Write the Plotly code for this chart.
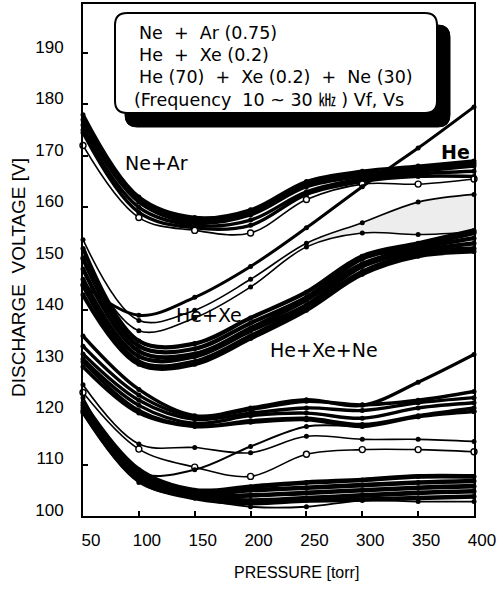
import plotly.graph_objects as go

# ---------------- data ----------------
pressure = [50, 100, 150, 200, 250, 300, 350, 400]
x_ticks = [50, 100, 150, 200, 250, 300, 350, 400]
y_ticks = [100, 110, 120, 130, 140, 150, 160, 170, 180, 190]

# Ne + Ar firing voltages (top band)
ne_ar_1 = [178.0, 162.0, 158.0, 159.5, 165.0, 167.0, 168.0, 169.0]
ne_ar_2 = [177.0, 161.5, 157.5, 159.0, 164.5, 166.5, 167.5, 168.5]
ne_ar_3 = [176.0, 161.0, 157.0, 158.5, 164.0, 166.0, 167.0, 168.0]
ne_ar_4 = [175.0, 160.0, 156.5, 157.5, 163.0, 165.5, 166.5, 167.0]
ne_ar_5 = [174.5, 159.0, 156.0, 156.5, 162.5, 165.0, 166.0, 166.0]
ne_ar_6 = [172.0, 158.0, 155.5, 155.0, 161.5, 164.5, 164.5, 165.5]

# He line (straight rise)
he_1 = [145.0, 139.0, 142.5, 148.5, 156.0, 164.0, 171.5, 179.5]

# He + Xe
he_xe_1 = [153.7, 138.0, 140.0, 146.0, 153.0, 157.0, 161.0, 162.5]
he_xe_2 = [150.2, 136.0, 138.5, 144.5, 152.3, 155.0, 154.7, 155.2]

# He + Xe + Ne (thick band)
he_xe_ne_1 = [152.0, 134.0, 133.5, 138.5, 143.5, 150.5, 153.0, 155.5]
he_xe_ne_2 = [150.0, 133.0, 132.5, 137.5, 142.5, 150.0, 152.5, 155.0]
he_xe_ne_3 = [148.0, 132.0, 131.5, 136.5, 142.0, 149.0, 152.0, 154.0]
he_xe_ne_4 = [146.0, 131.0, 131.0, 136.0, 141.0, 148.5, 151.5, 153.0]
he_xe_ne_5 = [144.8, 130.0, 130.0, 135.0, 140.5, 147.5, 151.0, 152.0]
he_xe_ne_6 = [143.0, 129.5, 129.5, 134.5, 140.0, 147.0, 150.5, 151.4]

# sustain voltages, upper group
vs1_1 = [135.0, 124.6, 119.5, 121.0, 122.6, 121.5, 126.0, 131.4]
vs1_2 = [133.0, 123.5, 119.3, 120.7, 122.3, 121.6, 122.5, 124.2]
vs1_3 = [131.5, 122.5, 118.8, 120.0, 121.0, 120.5, 122.0, 123.0]
vs1_4 = [130.5, 121.5, 118.0, 119.5, 120.0, 119.0, 121.0, 122.0]
vs1_5 = [130.0, 120.5, 117.5, 118.5, 119.0, 117.8, 119.5, 121.0]
vs1_6 = [129.0, 120.0, 117.4, 118.2, 118.7, 117.4, 119.3, 120.3]

# sustain voltages, middle group
vs2_1 = [125.5, 114.0, 113.3, 112.3, 115.5, 114.9, 114.9, 114.5]
vs2_2 = [124.0, 113.0, 109.5, 107.7, 112.0, 112.9, 112.9, 112.5]
vs2_3 = [123.0, 108.5, 109.0, 113.5, 117.4, 117.6, 119.3, 120.3]

# sustain voltages, bottom group
vs3_1 = [122.0, 109.0, 105.0, 105.7, 106.5, 107.0, 107.7, 107.7]
vs3_2 = [121.5, 108.5, 104.5, 105.0, 105.5, 106.0, 106.5, 106.8]
vs3_3 = [121.0, 108.0, 104.0, 104.0, 104.5, 105.0, 105.5, 105.8]
vs3_4 = [120.5, 107.5, 103.8, 103.0, 103.5, 104.0, 104.5, 104.8]
vs3_5 = [120.3, 107.0, 103.5, 102.5, 103.0, 103.2, 103.5, 103.8]
vs3_6 = [120.0, 106.5, 103.5, 101.8, 101.8, 103.0, 102.8, 102.8]

legend_lines = [
    "Ne  +  Ar (0.75)",
    "He  +  Xe (0.2)",
    "He (70)  +  Xe (0.2)  +  Ne (30)",
    "(Frequency  10 ~ 30 \u3391 ) Vf, Vs",
]

# ---------------- styling ----------------
W, H = 503, 590
L, R, T, B = 83, 474, 4, 516


def xp(px):
    return (px - L) / (R - L)


def yp(py):
    return (B - py) / (B - T)


fig = go.Figure()


def add_line(vals, width=2.2, open_marker=False, msize=5):
    if open_marker:
        marker = dict(size=6, color="white", line=dict(color="black", width=1.4))
    else:
        marker = dict(size=msize, color="black")
    fig.add_trace(go.Scatter(
        x=pressure, y=vals, mode="lines+markers",
        line=dict(color="black", width=width, shape="spline", smoothing=1.0),
        marker=marker, cliponaxis=False, showlegend=False, hoverinfo="skip"))


# shaded stipple region between He+Xe lines at high pressure
fig.add_trace(go.Scatter(x=pressure[4:], y=he_xe_2[4:], mode="lines",
                         line=dict(color="rgba(0,0,0,0)", shape="spline"),
                         showlegend=False, hoverinfo="skip"))
fig.add_trace(go.Scatter(x=pressure[4:], y=he_xe_1[4:], mode="lines",
                         line=dict(color="rgba(0,0,0,0)", shape="spline"),
                         fill="tonexty", fillcolor="rgba(0,0,0,0.07)",
                         showlegend=False, hoverinfo="skip"))

for s in [ne_ar_1, ne_ar_2, ne_ar_3, ne_ar_4, ne_ar_5]:
    add_line(s, width=3.4)
add_line(ne_ar_6, width=1.6, open_marker=True)

add_line(he_1, width=3.0)
add_line(he_xe_1, width=1.6)
add_line(he_xe_2, width=1.6)

for s in [he_xe_ne_1, he_xe_ne_2, he_xe_ne_3, he_xe_ne_4, he_xe_ne_5, he_xe_ne_6]:
    add_line(s, width=4.2)

for s in [vs1_1, vs1_2, vs1_3, vs1_4, vs1_5, vs1_6]:
    add_line(s, width=3.4)

add_line(vs2_1, width=1.6)
add_line(vs2_2, width=1.6, open_marker=True)
add_line(vs2_3, width=2.0)

for s in [vs3_1, vs3_2, vs3_3, vs3_4, vs3_5]:
    add_line(s, width=4.6)
add_line(vs3_6, width=1.8)


def rounded(l, t, r, b, rad):
    x0, x1 = xp(l), xp(r)
    y0, y1 = yp(b), yp(t)
    rx = rad / (R - L)
    ry = rad / (B - T)
    return (f"M {x0+rx},{y1} L {x1-rx},{y1} Q {x1},{y1} {x1},{y1-ry} "
            f"L {x1},{y0+ry} Q {x1},{y0} {x1-rx},{y0} L {x0+rx},{y0} "
            f"Q {x0},{y0} {x0},{y0+ry} L {x0},{y1-ry} Q {x0},{y1} {x0+rx},{y1} Z")


shapes = [
    dict(type="path", xref="paper", yref="paper", path=rounded(125, 25, 450, 127, 12),
         fillcolor="black", line=dict(color="black", width=1), layer="above"),
    dict(type="path", xref="paper", yref="paper", path=rounded(115, 13, 437, 113, 12),
         fillcolor="white", line=dict(color="black", width=2), layer="above"),
]

font_main = "Liberation Sans, Arial, sans-serif"
font_leg = "DejaVu Sans, Noto Sans CJK KR, sans-serif"

annotations = []
leg_pos = [(137, 33), (137, 55), (137, 77), (132, 100)]
for txt, (lx, ly) in zip(legend_lines, leg_pos):
    annotations.append(dict(text=txt, x=xp(lx), y=yp(ly), xref="paper", yref="paper",
                            xanchor="left", yanchor="middle", showarrow=False,
                            font=dict(family=font_leg, size=17.5, color="black")))

labels = [
    ("Ne+Ar", 156, 163, 19),
    ("<b>He</b>", 455, 152, 19),
    ("He+Xe", 209, 315, 19),
    ("He+Xe+Ne", 324, 350, 19),
]
for txt, lx, ly, fs in labels:
    annotations.append(dict(text=txt, x=xp(lx), y=yp(ly), xref="paper", yref="paper",
                            xanchor="center", yanchor="middle", showarrow=False,
                            font=dict(family=font_leg, size=fs, color="black")))

annotations.append(dict(text="PRESSURE [torr]", x=xp(296), y=yp(572), xref="paper", yref="paper",
                        xanchor="center", yanchor="middle", showarrow=False,
                        font=dict(family=font_main, size=16, color="black")))
annotations.append(dict(text="DISCHARGE  VOLTAGE [V]", x=xp(18), y=yp(278), xref="paper", yref="paper",
                        xanchor="center", yanchor="middle", showarrow=False, textangle=-90,
                        font=dict(family=font_main, size=19, color="black")))

fig.update_layout(
    width=W, height=H,
    margin=dict(l=L, r=W - R, t=T, b=H - B, pad=0),
    plot_bgcolor="white", paper_bgcolor="white",
    shapes=shapes, annotations=annotations,
    font=dict(family=font_main, color="black"),
)
fig.update_xaxes(range=[50, 400], tickvals=x_ticks, ticktext=[str(v) for v in x_ticks],
                 showline=True, mirror=True, linecolor="black", linewidth=2,
                 ticks="inside", ticklen=5, tickwidth=1.5, tickcolor="black",
                 showgrid=False, zeroline=False, automargin=False,
                 tickfont=dict(family=font_main, size=17, color="black"),
                 ticklabelshift=8, ticklabelstandoff=8)
fig.update_yaxes(range=[100, 199.5], tickvals=y_ticks, ticktext=[str(v) for v in y_ticks],
                 showline=True, mirror=True, linecolor="black", linewidth=2,
                 ticks="inside", ticklen=5, tickwidth=1.5, tickcolor="black",
                 showgrid=False, zeroline=False, automargin=False,
                 tickfont=dict(family=font_main, size=17, color="black"),
                 ticklabelshift=-6, ticklabelstandoff=14)

fig.write_html("out.html", config={"displayModeBar": False},
               post_script="document.body.style.margin='0';document.body.style.overflow='hidden';")
